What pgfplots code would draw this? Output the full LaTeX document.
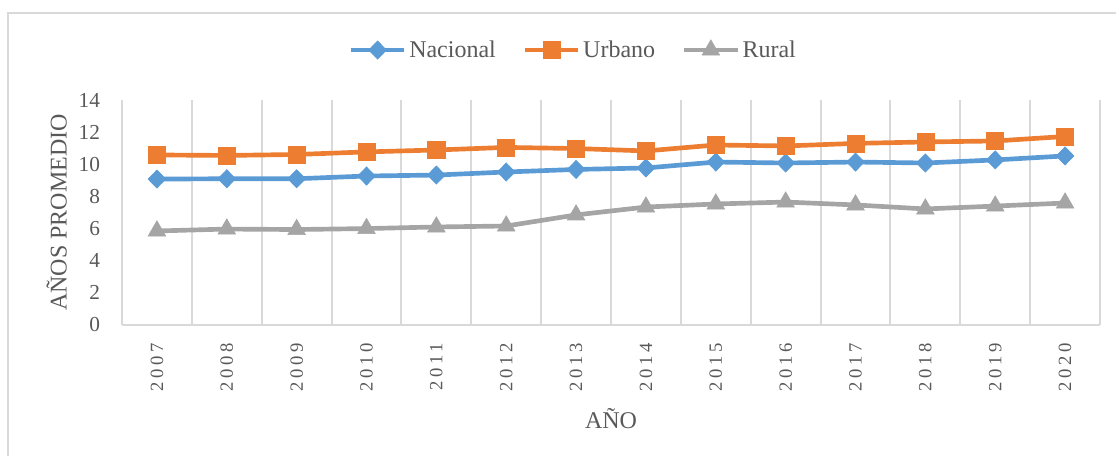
\documentclass[border=0pt]{standalone}
\usepackage{fontspec}
\setmainfont{Liberation Serif}
\newfontfamily\tickfont[LetterSpace=20]{Liberation Serif}
\usepackage{pgfplots}
\pgfplotsset{compat=1.18}
\definecolor{nacblue}{HTML}{5B9BD5}
\definecolor{urborange}{HTML}{ED7D31}
\definecolor{rurgray}{HTML}{A5A5A5}
\definecolor{txtgray}{HTML}{595959}
\definecolor{gridgray}{HTML}{D9D9D9}

\begin{document}
\begin{tikzpicture}
\begin{axis}[
  scale only axis,
  width=733.5pt, height=168.75pt,
  xmin=-0.5, xmax=13.5, ymin=0, ymax=14,
  clip=false,
  axis line style={draw=none},
  xtick={0,...,13},
  xticklabels={2007,2008,2009,2010,2011,2012,2013,2014,2015,2016,2017,2018,2019,2020},
  minor xtick={-0.5,0.5,...,13.5},
  xminorgrids=true,
  minor grid style={draw=gridgray, line width=1.5pt},
  ytick={0,2,...,14},
  major tick length=0pt, minor tick length=0pt,
  /pgf/number format/assume math mode=true,
  xticklabel style={font=\tickfont\fontsize{14}{16}\selectfont, text=txtgray, rotate=90, anchor=east},
  yticklabel style={font=\fontsize{16}{18}\selectfont, text=txtgray},
  xticklabel shift=10pt,
  yticklabel shift=13pt,
  xlabel={AÑO},
  ylabel={AÑOS PROMEDIO},
  every axis x label/.style={at={(axis description cs:0.5,0)}, anchor=center, yshift=-70pt,
    font=\fontsize{18}{20}\selectfont, text=txtgray},
  every axis y label/.style={at={(axis description cs:0,0.5)}, rotate=90, anchor=center, yshift=49pt,
    font=\fontsize{18}{20}\selectfont, text=txtgray},
  legend style={at={(axis description cs:0.4617,1.222)}, anchor=center, draw=none, fill=none,
    font=\fontsize{18}{20}\selectfont, text=txtgray, legend columns=3,
    /tikz/every even column/.append style={column sep=18pt}},
  legend image code/.code={\draw[mark repeat=2,mark phase=2,#1] plot coordinates {(0pt,0pt) (20pt,0pt) (40pt,0pt)};},
]
\draw[gridgray, line width=1.5pt] (axis cs:-0.5,0) -- (axis cs:13.5,0);
\addplot[color=nacblue, line width=3.5pt, mark=diamond*, mark size=6.8pt,
  mark options={xscale=1.3, line width=0.5pt, fill=nacblue}]
  coordinates{(0,9.08)(1,9.10)(2,9.10)(3,9.27)(4,9.33)(5,9.52)(6,9.68)
  (7,9.77)(8,10.14)(9,10.08)(10,10.14)(11,10.08)(12,10.27)(13,10.52)};
\addlegendentry{Nacional}
\addplot[color=urborange, line width=3.5pt, mark=square*, mark size=6.4pt,
  mark options={line width=0.5pt, fill=urborange}]
  coordinates{(0,10.58)(1,10.55)(2,10.61)(3,10.77)(4,10.89)(5,11.05)(6,10.98)
  (7,10.83)(8,11.20)(9,11.14)(10,11.30)(11,11.39)(12,11.45)(13,11.73)};
\addlegendentry{Urbano}
\addplot[color=rurgray, line width=3.5pt, mark=triangle*, mark size=7.6pt,
  mark options={line width=0.5pt, fill=rurgray}]
  coordinates{(0,5.85)(1,5.97)(2,5.94)(3,6.00)(4,6.10)(5,6.16)(6,6.85)
  (7,7.34)(8,7.53)(9,7.65)(10,7.47)(11,7.22)(12,7.40)(13,7.59)};
\addlegendentry{Rural}
\end{axis}
\draw[gridgray, line width=1.5pt] (-85.5pt,-98.25pt) -- (-85.5pt,234pt) -- (745.5pt,234pt);
\pgfresetboundingbox
\useasboundingbox (-91.5pt,-98.25pt) rectangle (745.5pt,243.75pt);
\end{tikzpicture}
\end{document}
